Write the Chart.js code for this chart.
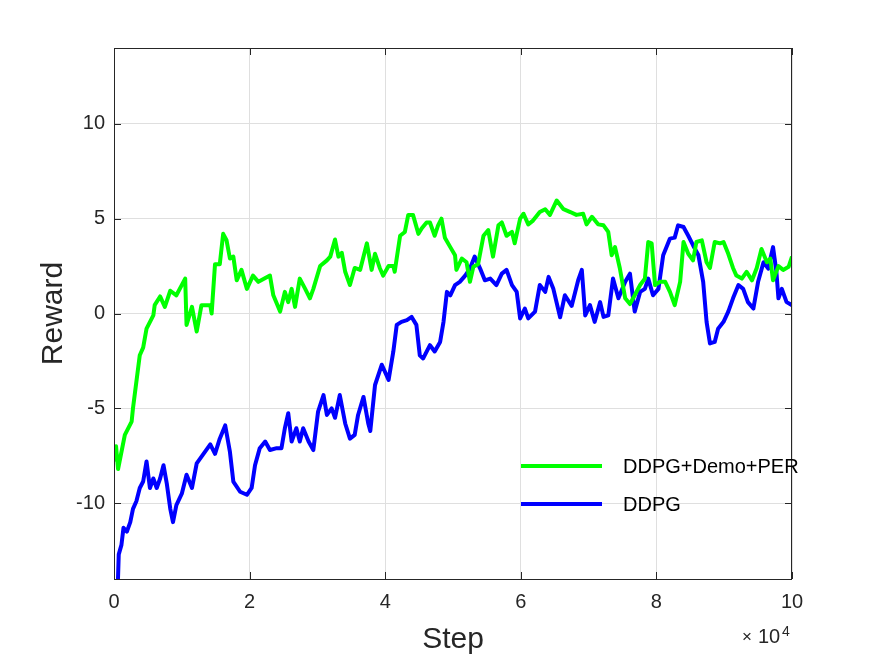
<!DOCTYPE html>
<html>
<head>
<meta charset="utf-8">
<script src="https://cdn.jsdelivr.net/npm/chart.js@4.4.1/dist/chart.umd.min.js"></script>
<style>
  body { margin: 0; background: #fff; }
  #wrap { width: 875px; height: 656px; position: relative; }
</style>
</head>
<body>
<div id="wrap"><canvas id="chart"></canvas></div>
<script>
// step values are in units of 10^4
const demoSteps = [0, 0.03, 0.06, 0.16, 0.26, 0.28, 0.33, 0.38, 0.43, 0.48, 0.58, 0.60, 0.68, 0.75, 0.83, 0.92,
  1.05, 1.07, 1.15, 1.22, 1.29, 1.42, 1.44, 1.49, 1.56, 1.61, 1.66, 1.71, 1.76, 1.81, 1.88, 1.96,
  2.05, 2.13, 2.30, 2.35, 2.45, 2.52, 2.57, 2.62, 2.67, 2.74, 2.82, 2.89, 2.94, 3.04, 3.14, 3.19,
  3.26, 3.31, 3.36, 3.41, 3.48, 3.55, 3.63, 3.73, 3.80, 3.85, 3.92, 3.97, 4.05, 4.12, 4.14, 4.22,
  4.29, 4.34, 4.41, 4.49, 4.54, 4.61, 4.66, 4.73, 4.78, 4.83, 4.88, 4.96, 5.03, 5.05, 5.13, 5.20,
  5.25, 5.30, 5.37, 5.45, 5.52, 5.59, 5.67, 5.72, 5.79, 5.87, 5.91, 5.99, 6.04, 6.11, 6.18, 6.28,
  6.36, 6.43, 6.53, 6.63, 6.73, 6.82, 6.92, 6.97, 7.05, 7.14, 7.22, 7.29, 7.34, 7.39, 7.46, 7.54,
  7.61, 7.68, 7.76, 7.83, 7.88, 7.93, 7.98, 8.05, 8.13, 8.20, 8.27, 8.35, 8.40, 8.47, 8.54, 8.59,
  8.67, 8.74, 8.79, 8.86, 8.94, 8.99, 9.06, 9.13, 9.18, 9.26, 9.33, 9.41, 9.48, 9.55, 9.63, 9.68,
  9.72, 9.80, 9.87, 9.95, 10.0];
const demoReward = [-7.8, -7.0, -8.2, -6.4, -5.7, -5.0, -3.6, -2.2, -1.8, -0.8, -0.1, 0.44, 0.9, 0.35, 1.2, 0.96,
  1.84, -0.6, 0.35, -0.95, 0.44, 0.44, 0, 2.6, 2.6, 4.2, 3.86, 2.9, 3.0, 1.75, 2.3, 1.3,
  2.0, 1.67, 2.0, 0.96, 0.1, 1.14, 0.6, 1.3, 0.35, 1.84, 1.3, 0.8, 1.3, 2.5, 2.8, 3.0,
  3.9, 3.0, 3.2, 2.2, 1.5, 2.4, 2.3, 3.7, 2.3, 3.15, 2.4, 2.0, 2.5, 2.5, 2.2, 4.1,
  4.3, 5.2, 5.2, 4.2, 4.5, 4.8, 4.8, 4.1, 4.65, 5.0, 4.0, 3.5, 3.07, 2.3, 2.9, 2.7,
  1.67, 2.46, 2.6, 4.1, 4.4, 3.0, 4.65, 4.8, 4.1, 4.3, 3.7, 5.0, 5.26, 4.7, 4.9, 5.35,
  5.5, 5.2, 5.96, 5.5, 5.35, 5.2, 5.26, 4.7, 5.1, 4.7, 4.65, 4.3, 3.07, 3.5, 2.4, 0.8,
  0.5, 0.96, 1.5, 1.84, 3.77, 3.7, 1.5, 1.67, 1.67, 1.14, 0.44, 1.67, 3.77, 3.15, 2.8, 3.77,
  3.86, 2.7, 2.4, 3.77, 3.7, 3.77, 3.15, 2.4, 2.0, 1.84, 2.2, 1.75, 2.4, 3.4, 2.7, 2.9,
  1.75, 2.5, 2.3, 2.46, 3.0];

const ddpgSteps = [0.05, 0.07, 0.11, 0.14, 0.19, 0.24, 0.28, 0.33, 0.38, 0.43, 0.48, 0.53, 0.58, 0.63, 0.68, 0.73,
  0.78, 0.83, 0.87, 0.92, 1.00, 1.07, 1.15, 1.22, 1.32, 1.42, 1.49, 1.56, 1.64, 1.71, 1.76, 1.86,
  1.96, 2.03, 2.08, 2.15, 2.23, 2.30, 2.40, 2.47, 2.52, 2.57, 2.62, 2.69, 2.74, 2.79, 2.87, 2.94,
  3.01, 3.09, 3.14, 3.21, 3.26, 3.33, 3.41, 3.48, 3.55, 3.60, 3.68, 3.75, 3.78, 3.85, 3.95, 4.05,
  4.12, 4.17, 4.24, 4.32, 4.39, 4.46, 4.51, 4.56, 4.66, 4.73, 4.81, 4.86, 4.91, 4.96, 5.03, 5.10,
  5.18, 5.25, 5.32, 5.40, 5.47, 5.55, 5.64, 5.72, 5.79, 5.87, 5.94, 5.99, 6.06, 6.11, 6.21, 6.28,
  6.36, 6.41, 6.48, 6.58, 6.65, 6.75, 6.85, 6.90, 6.95, 7.02, 7.09, 7.17, 7.22, 7.29, 7.36, 7.44,
  7.54, 7.61, 7.68, 7.76, 7.83, 7.88, 7.95, 8.03, 8.10, 8.20, 8.27, 8.32, 8.40, 8.47, 8.54, 8.62,
  8.69, 8.74, 8.79, 8.86, 8.91, 8.99, 9.06, 9.13, 9.21, 9.28, 9.35, 9.43, 9.50, 9.58, 9.65, 9.72,
  9.77, 9.80, 9.85, 9.92, 10.0];
const ddpgReward = [-15, -12.7, -12.2, -11.3, -11.5, -11.0, -10.3, -9.9, -9.2, -8.86, -7.8, -9.2, -8.7, -9.2, -8.7, -8.0,
  -9.0, -10.3, -11.0, -10.1, -9.5, -8.5, -9.2, -7.9, -7.4, -6.9, -7.4, -6.6, -5.9, -7.3, -8.86, -9.4,
  -9.56, -9.2, -8.0, -7.1, -6.75, -7.2, -7.1, -7.1, -6.05, -5.26, -6.75, -6.05, -6.75, -6.05, -6.75, -7.2,
  -5.17, -4.3, -5.35, -5.0, -5.5, -4.3, -5.8, -6.6, -6.4, -5.35, -4.4, -5.8, -6.2, -3.77, -2.7, -3.5,
  -2.0, -0.6, -0.44, -0.35, -0.18, -0.6, -2.2, -2.37, -1.67, -2.0, -1.5, -0.44, 1.14, 0.96, 1.5, 1.67,
  2.0, 2.37, 3.0, 2.37, 1.75, 1.84, 1.5, 2.1, 2.3, 1.5, 1.14, -0.26, 0.26, -0.26, 0.1, 1.5,
  1.14, 1.93, 1.3, -0.2, 0.96, 0.4, 1.8, 2.3, -0.1, 0.44, -0.44, 0.6, -0.18, -0.1, 1.84, 0.8,
  1.67, 2.1, 0.1, 1.14, 1.3, 1.84, 0.96, 1.3, 3.07, 3.95, 4.0, 4.65, 4.56, 4.1, 3.6, 3.07,
  1.67, -0.44, -1.58, -1.5, -0.8, -0.44, 0.1, 0.8, 1.5, 1.3, 0.6, 0.26, 1.67, 2.7, 2.37, 3.5,
  2.2, 0.8, 1.3, 0.6, 0.44];

const seriesNames = ['DDPG+Demo+PER', 'DDPG'];
const seriesColors = ['#00ff00', '#0000ff'];
const yTickValues = [-10, -5, 0, 5, 10];

const FONT = '"Liberation Sans", Arial, Helvetica, sans-serif';
const TEXT = '#262626';

function toPoints(xs, ys) {
    return xs.map((x, i) => ({ x: x, y: ys[i] }));
}

// matlab style box, inward ticks, labels and legend
const matlabAxes = {
    id: 'matlabAxes',
    afterDatasetsDraw(chart) {
        const { ctx, chartArea: a, scales } = chart;
        const xs = scales.x, ys = scales.y;
        ctx.save();
        ctx.strokeStyle = TEXT;
        ctx.lineWidth = 1;
        ctx.strokeRect(a.left + 0.5, a.top + 0.5, a.right - a.left - 1, a.bottom - a.top);
        ctx.beginPath();
        xs.ticks.forEach(t => {
            const px = Math.round(xs.getPixelForValue(t.value)) + 0.5;
            ctx.moveTo(px, a.bottom); ctx.lineTo(px, a.bottom - 7);
            ctx.moveTo(px, a.top); ctx.lineTo(px, a.top + 7);
        });
        ys.ticks.forEach(t => {
            const py = Math.round(ys.getPixelForValue(t.value)) + 0.5;
            ctx.moveTo(a.left, py); ctx.lineTo(a.left + 7, py);
            ctx.moveTo(a.right, py); ctx.lineTo(a.right - 7, py);
        });
        ctx.stroke();

        // legend
        chart.data.datasets.forEach((ds, i) => {
            const ly = a.top + 418 + i * 38;
            ctx.strokeStyle = ds.borderColor;
            ctx.lineWidth = 4;
            ctx.beginPath();
            ctx.moveTo(a.left + 407, ly);
            ctx.lineTo(a.left + 488, ly);
            ctx.stroke();
            ctx.fillStyle = '#000';
            ctx.font = '20px ' + FONT;
            ctx.textBaseline = 'middle';
            ctx.textAlign = 'left';
            ctx.fillText(ds.label, a.left + 509, ly + 1);
        });

        // axis titles
        ctx.fillStyle = TEXT;
        ctx.font = '30px ' + FONT;
        ctx.textAlign = 'center';
        ctx.textBaseline = 'alphabetic';
        ctx.fillText('Step', (a.left + a.right) / 2, 648);
        ctx.save();
        ctx.translate(62, (a.top + a.bottom) / 2);
        ctx.rotate(-Math.PI / 2);
        ctx.fillText('Reward', 0, 0);
        ctx.restore();

        // exponent label
        ctx.textAlign = 'left';
        ctx.font = '17px ' + FONT;
        ctx.fillText('\u00d7', 742, 642);
        ctx.font = '20px ' + FONT;
        ctx.fillText('10', 758, 643);
        ctx.font = '14px ' + FONT;
        ctx.fillText('4', 782, 636);
        ctx.restore();
    }
};

const ctx = document.getElementById('chart');
const chart = new Chart(ctx, {
    type: 'line',
    data: {
        datasets: [
            {
                label: seriesNames[0],
                data: toPoints(demoSteps, demoReward),
                borderColor: seriesColors[0],
                backgroundColor: seriesColors[0],
                borderWidth: 4,
                borderJoinStyle: 'round',
                pointRadius: 0,
                tension: 0
            },
            {
                label: seriesNames[1],
                data: toPoints(ddpgSteps, ddpgReward),
                borderColor: seriesColors[1],
                backgroundColor: seriesColors[1],
                borderWidth: 4,
                borderJoinStyle: 'round',
                pointRadius: 0,
                tension: 0
            }
        ]
    },
    options: {
        responsive: true,
        maintainAspectRatio: false,
        animation: false,
        layout: { padding: { left: 0, top: 48, right: 83, bottom: 0 } },
        plugins: {
            legend: { display: false },
            tooltip: { enabled: false }
        },
        scales: {
            x: {
                type: 'linear',
                min: 0,
                max: 10,
                afterFit: (scale) => { scale.height = 77; },
                ticks: {
                    stepSize: 2,
                    padding: 11,
                    color: TEXT,
                    font: { family: FONT, size: 20 },
                    maxRotation: 0
                },
                grid: { color: '#dfdfdf', drawTicks: false },
                border: { display: false }
            },
            y: {
                min: -14,
                max: 14,
                afterFit: (scale) => { scale.width = 114; },
                afterBuildTicks: (scale) => {
                    scale.ticks = yTickValues.map(v => ({ value: v }));
                },
                ticks: {
                    padding: 9,
                    color: TEXT,
                    font: { family: FONT, size: 20 }
                },
                grid: { color: '#dfdfdf', drawTicks: false },
                border: { display: false }
            }
        }
    },
    plugins: [matlabAxes]
});
</script>
</body>
</html>
